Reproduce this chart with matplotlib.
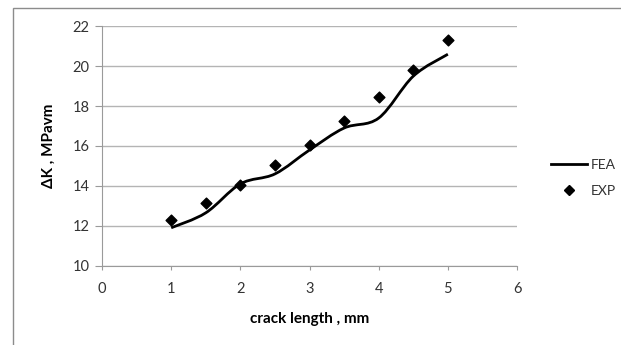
import matplotlib.pyplot as plt
import numpy as np
from matplotlib.path import Path
from matplotlib.patches import PathPatch, Rectangle
from matplotlib.lines import Line2D

plt.rcParams["font.family"] = ["Lato", "DejaVu Sans"]

crack_len = [1, 1.5, 2, 2.5, 3, 3.5, 4, 4.5, 5]
fea = [11.9, 12.65, 14.1, 14.6, 15.8, 16.9, 17.4, 19.5, 20.6]
exp_vals = [12.3, 13.15, 14.05, 15.05, 16.05, 17.25, 18.45, 19.8, 21.3]


def smooth_path(xs, ys):
    # excel-style smoothed line: bezier segments, catmull-rom control points
    pts = np.column_stack([xs, ys]).astype(float)
    ext = np.vstack([pts[0], pts, pts[-1]])
    verts = [pts[0]]
    codes = [Path.MOVETO]
    for i in range(len(pts) - 1):
        p0, p1, p2, p3 = ext[i], ext[i + 1], ext[i + 2], ext[i + 3]
        verts += [p1 + (p2 - p0) / 6, p2 - (p3 - p1) / 6, p2]
        codes += [Path.CURVE4] * 3
    return Path(verts, codes)


fig = plt.figure(figsize=(6.21, 3.45), dpi=100)
fig.patches.append(Rectangle((13 / 621, -0.1), 1.2, 1.1 - 8 / 345,
                             transform=fig.transFigure, fill=False,
                             edgecolor="#8c8c8c", lw=1.0))
ax = fig.add_axes([0.1643, 0.2299, 0.6683, 0.6939])

ax.add_patch(PathPatch(smooth_path(crack_len, fea), fill=False,
                       edgecolor="black", lw=2.0, zorder=3))
ax.scatter(crack_len, exp_vals, marker="D", s=30, color="black", zorder=4)

ax.set_xlim(0, 6)
ax.set_ylim(10, 22)
ax.set_xticks(range(0, 7))
ax.set_yticks(range(10, 23, 2))
ax.yaxis.grid(True, color="#b4b4b4", lw=1.0)
ax.set_axisbelow(True)
for s in ["top", "right"]:
    ax.spines[s].set_visible(False)
for s in ["left", "bottom"]:
    ax.spines[s].set_color("#9a9a9a")
ax.tick_params(axis="both", colors="#9a9a9a", labelcolor="#333333", labelsize=10.5)
ax.tick_params(axis="y", length=5, pad=4)
ax.tick_params(axis="x", length=3, pad=9)

ax.set_xlabel("crack length , mm", fontsize=11, fontweight="bold", labelpad=11)
ax.set_ylabel("ΔK , MPavm", fontsize=11, fontweight="bold", labelpad=12)

handles = [Line2D([], [], color="black", lw=2.0),
           Line2D([], [], marker="D", ls="none", color="black", markersize=5)]
fig.legend(handles, ["FEA", "EXP"], loc="center left",
           bbox_to_anchor=(538 / 621, 1 - 178 / 345), frameon=False,
           fontsize=10, handlelength=2.6, handletextpad=0.3,
           labelspacing=1.0, labelcolor="#333333")

fig.savefig("out.png", dpi=100)
